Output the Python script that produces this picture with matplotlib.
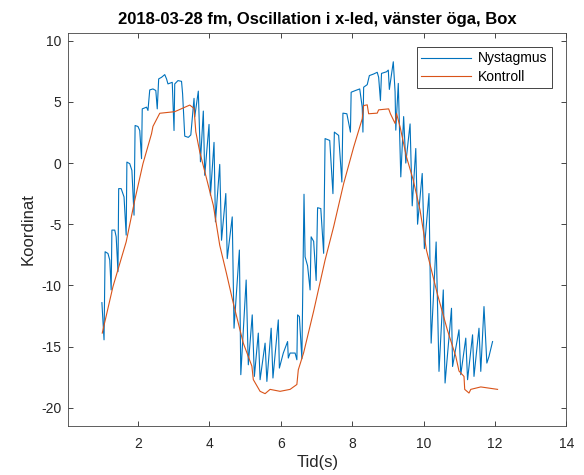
import numpy as np
import matplotlib
matplotlib.use('Agg')
import matplotlib.pyplot as plt

plt.rcParams['font.family'] = ['Liberation Sans', 'DejaVu Sans']
plt.rcParams['axes.unicode_minus'] = False

# Nystagmus (blue)
nyst_t = [0.99, 1.05, 1.08, 1.16, 1.21, 1.25, 1.27, 1.35, 1.39, 1.44, 1.46, 1.53, 1.61, 1.67,
          1.69, 1.77, 1.83, 1.89, 1.92, 2.00, 2.05, 2.10, 2.12, 2.24, 2.28, 2.33, 2.42, 2.50,
          2.54, 2.58, 2.66, 2.75, 2.80, 2.84, 2.96, 3.01, 3.03, 3.12, 3.22, 3.25, 3.31, 3.41,
          3.48, 3.57, 3.59, 3.69, 3.75, 3.83, 3.87, 3.99, 4.03, 4.13, 4.17, 4.29, 4.34, 4.46,
          4.50, 4.64, 4.69, 4.84, 4.88, 5.03, 5.09, 5.20, 5.26, 5.37, 5.42, 5.56, 5.61, 5.73,
          5.78, 5.93, 5.96, 6.07, 6.19, 6.21, 6.26, 6.40, 6.45, 6.47, 6.52, 6.59, 6.65, 6.68,
          6.75, 6.82, 6.85, 6.92, 6.99, 7.03, 7.12, 7.20, 7.24, 7.37, 7.46, 7.50, 7.62, 7.71,
          7.74, 7.85, 7.95, 7.97, 8.09, 8.21, 8.28, 8.30, 8.32, 8.42, 8.48, 8.60, 8.70, 8.74,
          8.79, 8.82, 8.96, 9.01, 9.04, 9.15, 9.20, 9.22, 9.29, 9.36, 9.44, 9.50, 9.62, 9.68,
          9.78, 9.83, 9.96, 10.02, 10.15, 10.21, 10.35, 10.43, 10.55, 10.60, 10.78, 10.81,
          10.99, 11.04, 11.18, 11.23, 11.37, 11.41, 11.55, 11.60, 11.69, 11.77, 11.83, 11.93]
nyst_x = [-11.41, -14.45, -7.25, -7.39, -7.93, -10.37, -5.48, -5.48, -6.03, -8.88, -2.09, -2.09,
          -2.77, -5.89, 0.08, -0.05, -0.6, -4.26, 3.07, 2.99, 2.66, 0.36, 4.43, 4.57, 4.3, 5.98,
          6.06, 5.93, 4.43, 6.88, 7.01, 7.23, 6.88, 6.47, 6.6, 2.66, 6.47, 6.74, 6.68, 5.66,
          2.2, 2.1, 2.3, 5.29, 3.78, 5.88, 0.1, 4.25, -1.0, 3.16, -2.63, 1.69, -4.81, -0.11,
          -6.31, -2.49, -7.81, -4.4, -13.5, -7.11, -17.3, -9.56, -16.49, -12.41, -17.44, -13.9,
          -17.71, -14.72, -17.85, -13.5, -17.57, -12.82, -16.76, -15.53, -14.59, -15.94, -15.53,
          -15.53, -16.08, -12.41, -12.55, -16.0, -2.55, -7.66, -8.4, -10.37, -6.03, -6.4, -9.6,
          -3.65, -3.72, -7.38, 2.0, 1.85, -2.5, 2.53, 2.26, -1.55, 4.08, 4.03, 2.53, 5.79, 5.93,
          6.06, 4.57, 2.53, 6.2, 6.41, 7.15, 7.28, 7.42, 7.01, 5.11, 7.33, 7.46, 7.6, 6.02, 8.28,
          5.83, 2.69, 6.51, -1.13, 3.8, 0.0, 3.2, -3.5, 1.19, -5.0, -0.85, -7.0, -2.49, -14.72,
          -6.45, -17.03, -10.37, -17.98, -11.87, -16.63, -13.63, -17.3, -14.31, -17.71, -14.04,
          -17.44, -13.5, -17.03, -11.73, -16.35, -15.81, -14.59]

# Kontroll (orange)
kontr_t = [1.00, 1.30, 1.67, 1.91, 2.14, 2.38, 2.42, 2.61, 3.03, 3.45, 3.57, 3.62, 3.73, 3.92,
           4.11, 4.29, 4.48, 4.67, 4.95, 5.19, 5.23, 5.42, 5.56, 5.70, 5.98, 6.26, 6.45, 6.49,
           6.64, 6.92, 7.24, 7.48, 7.76, 8.04, 8.28, 8.32, 8.42, 8.46, 8.70, 8.74, 9.02, 9.07,
           9.20, 9.24, 9.34, 9.52, 9.71, 9.90, 10.08, 10.38, 10.66, 10.90, 10.99, 11.13, 11.15,
           11.27, 11.32, 11.60, 12.07]
kontr_x = [-13.9, -10.1, -6.44, -3.04, -0.05, 2.4, 3.0, 4.07, 4.2, 4.74, 4.47, 2.55, 0.92, -1.26,
           -3.45, -6.72, -9.04, -11.46, -14.72, -16.6, -17.7, -18.66, -18.85, -18.5, -18.66,
           -18.5, -18.1, -16.9, -15.5, -12.1, -7.93, -5.2, -1.68, 1.3, 3.62, 4.7, 4.76, 4.03,
           4.08, 4.35, 4.43, 4.03, 3.24, 4.06, 2.96, 0.5, -1.4, -3.86, -7.13, -10.65, -13.6,
           -15.8, -17.0, -17.44, -18.5, -18.8, -18.5, -18.3, -18.5]

ink = '#262626'
fig = plt.figure(figsize=(5.84, 4.75), dpi=100)
ax = fig.add_axes([0.117, 0.103, 0.853, 0.828])

ax.plot(nyst_t, nyst_x, color='#0072BD', lw=0.8, label='Nystagmus')
ax.plot(kontr_t, kontr_x, color='#D95319', lw=0.8, label='Kontroll')

ax.set_xlim(0.05, 14)
ax.set_ylim(-21.5, 10.65)
ax.set_xticks(np.arange(2, 15, 2))
ax.set_yticks(np.arange(-20, 11, 5))
ax.tick_params(direction='in', top=True, right=True, length=3.5, width=0.6,
               colors=ink, labelsize=10)
ax.tick_params(axis='x', pad=8)
ax.tick_params(axis='y', pad=5)
for s in ax.spines.values():
    s.set_color('#444444')
    s.set_linewidth(0.6)

ax.set_title('2018-03-28 fm, Oscillation i x-led, vänster öga, Box',
             fontsize=12, fontweight='bold', color='black', pad=6)
ax.set_xlabel('Tid(s)', fontsize=12, color=ink, labelpad=3)
ax.set_ylabel('Koordinat', fontsize=12, color=ink)

leg = ax.legend(loc='upper right', fontsize=10, fancybox=False, framealpha=1,
                edgecolor=ink, borderpad=0.3, handlelength=3.6, borderaxespad=0,
                labelspacing=0.3, handletextpad=0.5,
                bbox_to_anchor=(0.970, 0.963))
leg.get_frame().set_linewidth(0.6)

plt.savefig('out.png', dpi=100)
